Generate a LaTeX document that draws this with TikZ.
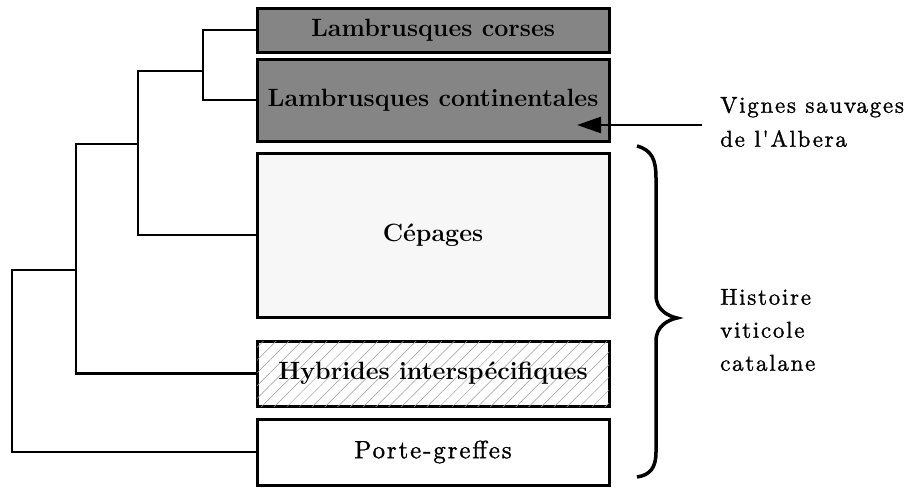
\documentclass[tikz,border=0pt]{standalone}
\usepackage{fontspec}
\newfontfamily\sidefont{lmroman10-regular.otf}[FakeBold=1.2,LetterSpace=7.5]
\usetikzlibrary{patterns.meta,arrows.meta}
\begin{document}
\begin{tikzpicture}[x=1pt,y=-1pt,
  box/.style={draw=black,line width=3pt,minimum width=352pt,inner sep=0pt,
    font=\fontsize{25}{29}\selectfont\bfseries},
  boxtext/.style={font=\fontsize{25}{29}\selectfont\bfseries},
  tree/.style={line width=2.4pt},
  side/.style={font=\sidefont\fontsize{23}{34}\selectfont,
    align=left,anchor=west,inner sep=0pt}]
\useasboundingbox (0,0) rectangle (911,490);
\node[box,fill=black!48,minimum height=44pt] (b1) at (433,30) {Lambrusques corses};
\node[box,fill=black!48,minimum height=82pt] (b2) at (433,100) {Lambrusques continentales};
\node[box,fill=black!3,minimum height=164pt] (b3) at (433,235) {Cépages};
\node[box,fill=white,minimum height=65pt,
  postaction={pattern={Lines[angle=45,distance=9pt,line width=0.5pt]},pattern color=black!40}]
  (b4) at (433,373.5) {};
\node[boxtext] (t4) at (b4) {Hybrides interspécifiques};
\node[box,fill=white,minimum height=66pt,
  font=\sidefont\fontsize{25}{29}\selectfont] (b5) at (433,452) {Porte-greffes};
\coordinate (n1) at (203,71);
\coordinate (n2) at (138,144);
\coordinate (n3) at (76,270);
\coordinate (n4) at (12,360);
\draw[tree] (b1.west) -| (n1) |- (b2.west);
\draw[tree] (n1) -| (n2) |- (b3.west);
\draw[tree] (n2) -| (n3) |- (b4.west);
\draw[tree] (n3) -| (n4) |- (b5.west);
\node[side] (albera) at (720,122) {Vignes sauvages\\de l'Albera};
\coordinate (astart) at (702,125);
\draw[line width=2.6pt,-{Triangle[length=24pt,width=16pt]}] (astart) -- (577,125);
\node[side,font=\sidefont\fontsize{23}{33}\selectfont] (hist) at (720,330) {Histoire\\viticole\\catalane};
\draw[line width=3.5pt] (637,146) .. controls (652,150) and (656,160) .. (656,178)
  -- (656,295) .. controls (656,310) and (668,316) .. (677,318)
  .. controls (668,320) and (656,326) .. (656,341)
  -- (656,452) .. controls (656,468) and (650,475) .. (637,477);
\end{tikzpicture}
\end{document}
